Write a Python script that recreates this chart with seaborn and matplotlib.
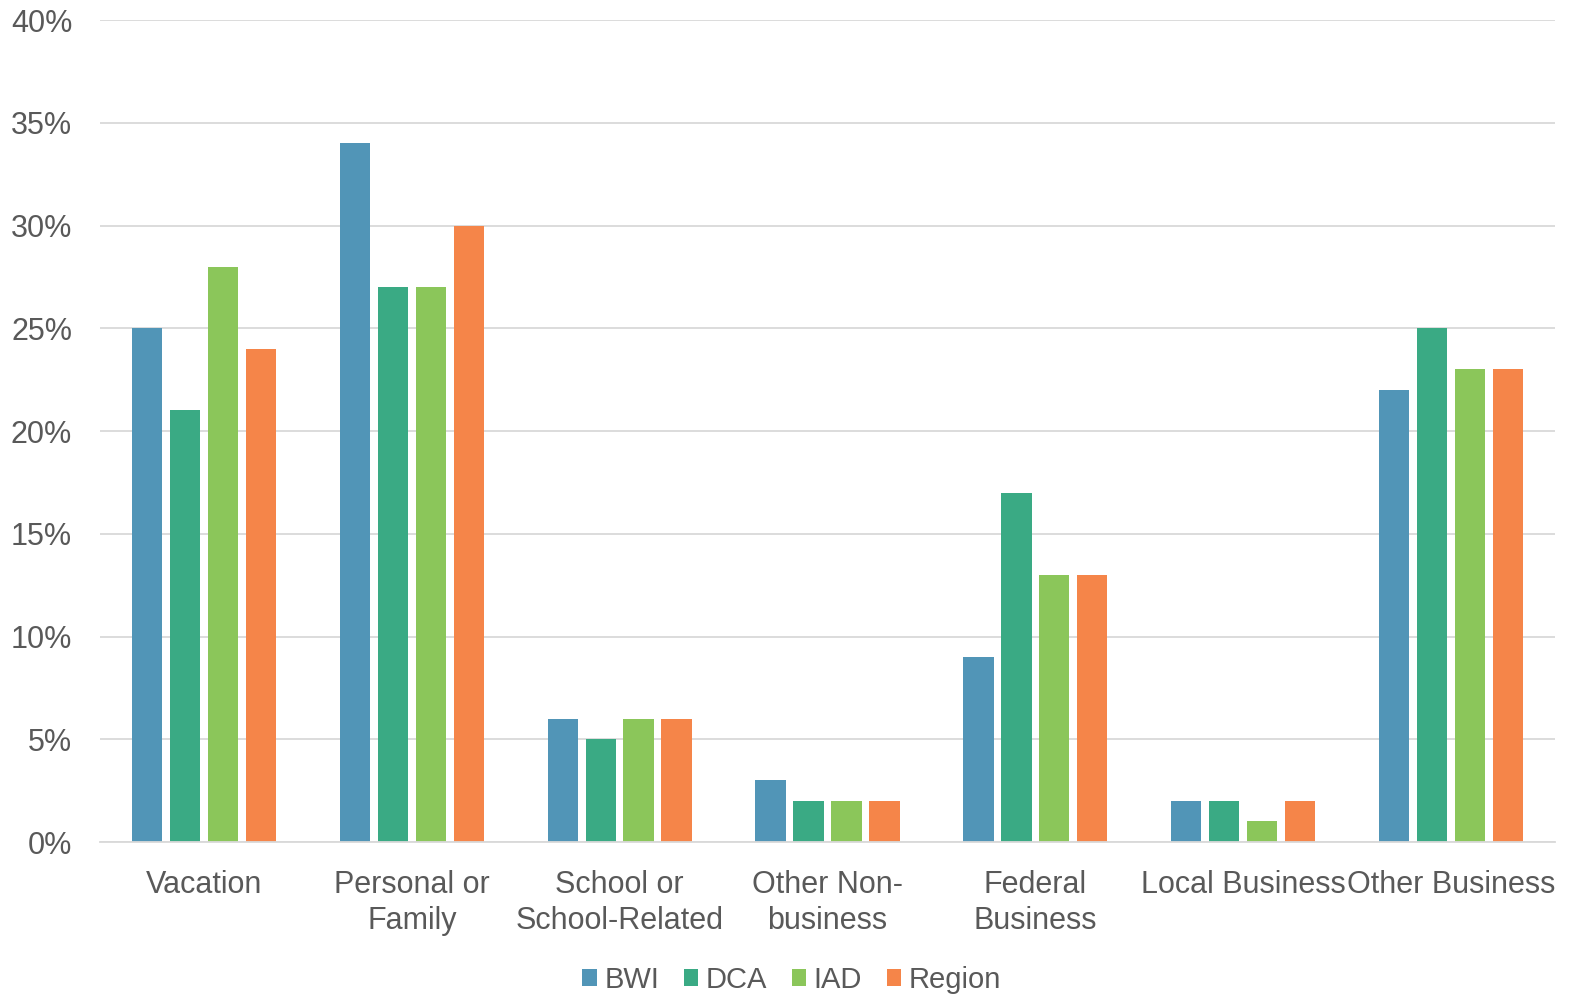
import matplotlib
matplotlib.use("Agg")
import matplotlib.pyplot as plt
import seaborn as sns
import pandas as pd
from matplotlib.ticker import FuncFormatter, MultipleLocator

categories = ["Vacation", "Personal or\nFamily", "School or\nSchool-Related", "Other Non-\nbusiness",
              "Federal\nBusiness", "Local Business", "Other Business"]
series = ["BWI", "DCA", "IAD", "Region"]
bwi = [25, 34, 6, 3, 9, 2, 22]
dca = [21, 27, 5, 2, 17, 2, 25]
iad = [28, 27, 6, 2, 13, 1, 23]
region = [24, 30, 6, 2, 13, 2, 23]
colors = ["#5195B7", "#3AAA84", "#8BC65A", "#F58549"]

rows = []
for s, vals in zip(series, [bwi, dca, iad, region]):
    for c, v in zip(categories, vals):
        rows.append({"cat": c, "series": s, "val": v})
df = pd.DataFrame(rows)

sns.set_theme(style="white")
plt.rcParams['font.family'] = ['Liberation Sans', 'DejaVu Sans']
txt = "#595959"

fig = plt.figure(figsize=(15.74, 9.97), dpi=100)
ax = fig.add_axes([100/1574, 1 - 842/997, 1455/1574, (842-20)/997])
sns.barplot(data=df, x="cat", y="val", hue="series", order=categories, hue_order=series,
            palette=colors, width=0.73, gap=0.2, ax=ax, saturation=1, legend=True,
            linewidth=0, edgecolor="none")

ax.set_ylim(0, 40)
ax.set_xlim(-0.5, len(categories) - 0.5)
ax.yaxis.set_major_locator(MultipleLocator(5))
ax.yaxis.set_major_formatter(FuncFormatter(lambda v, p: f"{int(v)}%"))
ax.grid(axis="y", color="#D9D9D9", linewidth=1.3)
ax.set_axisbelow(True)
for s in ["top", "right", "left"]:
    ax.spines[s].set_visible(False)
ax.spines["bottom"].set_color("#D9D9D9")
ax.spines["bottom"].set_linewidth(1.3)
ax.tick_params(axis="both", length=0, colors=txt, labelsize=22)
ax.tick_params(axis="y", pad=20)
ax.tick_params(axis="x", pad=20)
for lab in ax.get_xticklabels():
    lab.set_linespacing(1.25)
ax.set_xlabel("")
ax.set_ylabel("")

handles, labels = ax.get_legend_handles_labels()
ax.legend_.remove()
leg = fig.legend(handles, labels, loc="center", bbox_to_anchor=(0.503, 1 - 980/997), ncol=4,
                 frameon=False, fontsize=21, handlelength=0.5, handleheight=0.5,
                 handletextpad=0.25, columnspacing=0.85, labelcolor=txt)

fig.savefig("out.png", dpi=100)
